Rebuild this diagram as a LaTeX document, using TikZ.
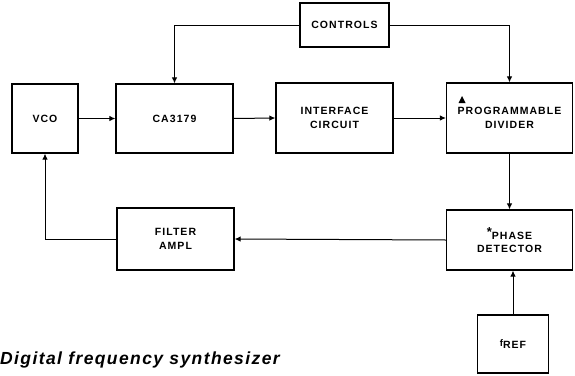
\documentclass[tikz,border=0pt]{standalone}
\usepackage{fontspec}
\setmainfont{Liberation Sans}
\usetikzlibrary{arrows.meta}
\tikzset{
  blk/.style={draw, line width=1.2pt, rectangle, align=center, inner sep=0pt,
    font=\bfseries\fontsize{10.5}{13.5}\selectfont\addfontfeature{LetterSpace=10}},
  conn/.style={line width=1pt, -{Latex[length=6pt,width=5.5pt]}}
}
\begin{document}
\begin{tikzpicture}[x=1pt,y=-1pt]
\useasboundingbox (0,0) rectangle (575,375);
\node[blk, minimum width=66pt, minimum height=69pt] (vco) at (45,118.5) {VCO};
\node[blk, minimum width=117pt, minimum height=69pt] (ca) at (174.5,118.5) {CA3179};
\node[blk, minimum width=117pt, minimum height=70pt] (if) at (334.5,118) {INTERFACE\\CIRCUIT};
\node[blk, minimum width=126pt, minimum height=70pt] (div) at (509.5,118) {PROGRAMMABLE\\DIVIDER};
\fill (458.5,103) -- (465.5,103) -- (462,96) -- cycle;
\node[blk, minimum width=89pt, minimum height=44pt] (ctrl) at (344.5,25) {CONTROLS};
\node[blk, minimum width=126pt, minimum height=60pt] (pd) at (509.5,240) {\raisebox{3pt}{\fontsize{13}{13}\selectfont *}PHASE\\DETECTOR};
\node[blk, minimum width=71pt, minimum height=58pt] (fref) at (513,344) {\raisebox{1.5pt}{\fontsize{9.5}{9.5}\selectfont f}REF};
\node[blk, minimum width=117pt, minimum height=62pt] (filt) at (175.5,239) {FILTER\\AMPL};
\node[anchor=west, inner sep=0pt, font=\bfseries\itshape\fontsize{17.5}{19}\selectfont\addfontfeature{LetterSpace=8}] (cap) at (0,360) {Digital frequency synthesizer};
\draw[conn] (vco.east) -- (ca.west);
\draw[conn] (ca.east) -- (if.west);
\draw[conn] (if.east) -- (div.west);
\draw[conn] (ctrl.west) -| (ca.north);
\draw[conn] (ctrl.east) -| (div.north);
\draw[conn] (div.south) -- (pd.north);
\draw[conn] (fref.north) -- (fref.north |- pd.south);
\draw[conn] (pd.west) -- (filt.east);
\draw[conn] (filt.west) -| (vco.south);
\end{tikzpicture}
\end{document}
